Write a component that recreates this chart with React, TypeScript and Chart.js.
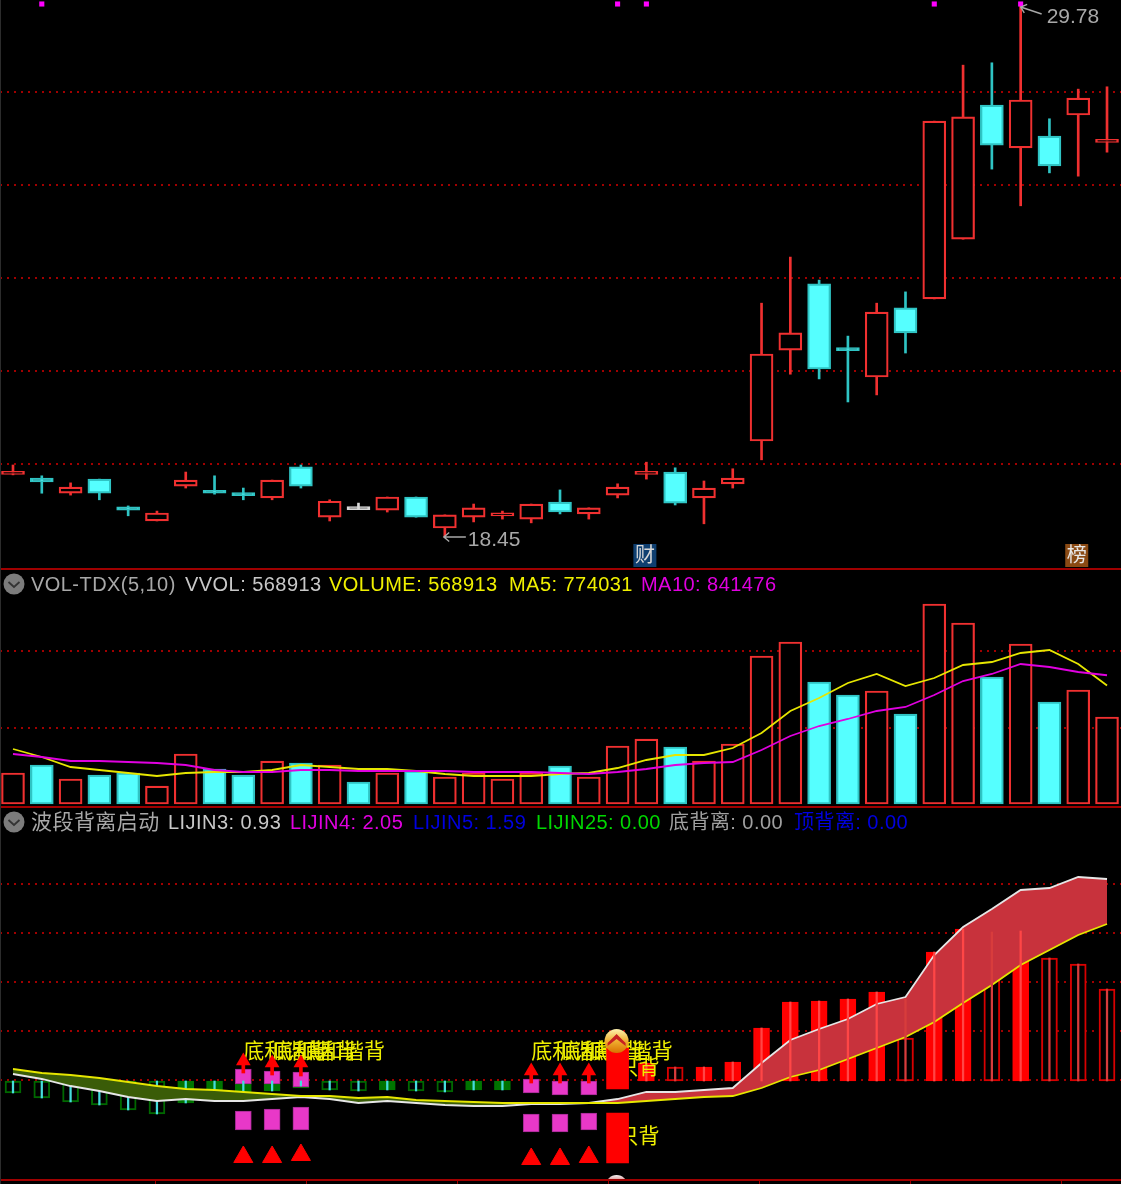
import React, { useEffect, useRef } from "react";
import { Chart, registerables } from "chart.js";

Chart.register(...registerables);

const opens = [19.78,19.70,19.38,19.68,19.09,18.79,19.53,19.41,19.35,19.28,19.94,18.87,19.03,19.02,19.30,18.64,18.87,18.90,18.83,19.19,18.94,19.34,19.78,19.83,19.28,19.58,20.49,22.42,23.83,22.43,21.85,23.32,23.51,24.78,27.63,26.72,26.97,27.42,26.84];
const closes = [19.82,19.62,19.51,19.38,19.02,18.96,19.66,19.38,19.33,19.66,19.53,19.21,19.05,19.30,18.87,18.92,19.07,18.92,19.15,18.98,19.07,19.51,19.83,19.17,19.49,19.70,22.34,22.79,22.02,22.41,23.23,22.79,27.29,27.38,26.78,27.74,26.34,27.78,26.88];
const highs = [19.98,19.75,19.60,19.68,19.11,19.00,19.83,19.75,19.49,19.66,19.98,19.24,19.17,19.30,19.30,18.92,19.15,19.00,19.15,19.45,19.07,19.58,20.04,19.92,19.64,19.90,23.42,24.40,23.91,22.72,23.42,23.66,27.29,28.48,28.53,29.78,27.34,27.97,28.02];
const lows = [19.77,19.38,19.34,19.24,18.90,18.79,19.49,19.36,19.24,19.24,19.49,18.79,19.03,18.98,18.87,18.45,18.77,18.83,18.75,18.94,18.83,19.28,19.68,19.13,18.73,19.49,20.09,21.91,21.81,21.32,21.47,22.36,23.51,24.78,26.27,25.49,26.19,26.12,26.63];
const flatDays = [12];
const priceGrid = [20.0, 21.98, 23.955, 25.93, 27.91];
const signalDays = [1, 21, 22, 32, 35];

const volumes = [202600,254900,163400,189500,202600,117600,326800,228800,189500,281000,268000,254900,143800,202600,215700,176500,202600,163400,202600,248400,176500,379100,424800,372600,281000,392200,967300,1058800,797400,712400,738600,588200,1307200,1183000,830100,1045800,666700,745100,568913];
const ma5 = [359500,307200,241800,222200,202600,183000,202600,209200,209200,222200,254900,241800,228800,228800,215700,196100,183000,183000,183000,196100,202600,235300,287600,320300,320300,366000,464100,607800,692800,790900,849700,771200,823500,908500,928100,986900,1006500,915000,774031];
const ma10 = [326800,307200,281000,281000,274500,268000,254900,222200,209200,209200,222200,222200,215700,215700,215700,215700,209200,209200,209200,202600,196100,209200,228800,254900,268000,274500,352900,444400,509800,555600,607800,634000,712400,803900,849700,915000,895400,862800,841476];
const volumeGrid = [500000, 1000000];

const bandUpper = [6,1,-6,-11,-17,-21,-19,-21,-21,-19,-17,-19,-23,-21,-23,-25,-26,-26,-24,-24,-23,-19,-12,-12,-10,-8,17,40,51,61,76,83,125,153,171,190,192,203,201];
const bandLower = [11,7,5,2,-2,-6,-9,-10,-12,-14,-16,-16,-18,-17,-20,-21,-22,-23,-23,-23,-23,-23,-21,-19,-17,-16,-8,3,10,21,32,43,58,77,95,115,130,145,156];
const indicatorGrid = [0, 49, 98, 147, 196];

const greenDays = [0,1,2,3,4,5,6,7,8,9,10,11,12,13,14,15,16,17];
const greenLows = [-13,-18,-22,-25,-30,-34,-23,-20,-12,-11,-8,-10,-11,-10,-11,-12,-10,-10];
const greenWickLows = [-13,-18,-22,-25,-30,-34,-23,-20,-17,-11,-6,-10,-11,-10,-11,-12,-10,-10];
const greenSolid = [6,7,8,9,10,13,16,17];

const redDays = [22,23,24,25,26,27,28,29,30,31,32,33,34,35,36,37,38];
const redTops = [17,13,13,18,52,78,79,81,88,42,128,151,112,120,122,116,91];
const redWickTops = [17,13,13,18,52,78,79,81,88,81,128,151,148,149,122,116,91];
const redHollow = [23,31,34,36,37,38];

const spikeDay = 21;
const spikeSegments: [number, number][] = [[-9, 32], [-83, -33]];

const pinkDays = [8,9,10,18,19,20];
const pinkUpperLow = [-4,-4,-7,-13,-15,-15];
const pinkUpperHigh = [11,9,8,1,0,0];
const pinkLowerLow = [-50,-50,-50,-52,-52,-50];
const pinkLowerHigh = [-31,-29,-27,-34,-34,-33];
const arrowStemLow = [7,5,4,-3,-3,-3];
const arrowHeadAt = [19,17,17,9,9,9];
const triangleAt = [-77,-77,-75,-79,-79,-77];

const divergenceDays = [8,9,10,18,19,20];
const divergenceLabel = "底和谐背";
const divergenceLevel = 28;
const spikeLabel = "只背";
const spikeLabelLevels = [12, -57];

const priceHigh = { day: 35, value: 29.78, label: "29.78" };
const priceLow = { day: 15, value: 18.45, label: "18.45" };
const badges = [
  { day: 22, label: "财", color: "#0f3f70", text: "#d8d8d8" },
  { day: 37, label: "榜", color: "#8a4a14", text: "#e8e8e8" },
];

const volumeHeader = [
  { text: "VOL-TDX(5,10)", x: 31, color: "#a8a8a8" },
  { text: "VVOL: 568913", x: 185, color: "#c8c8c8" },
  { text: "VOLUME: 568913", x: 329, color: "#f0f000" },
  { text: "MA5: 774031", x: 509, color: "#f0f000" },
  { text: "MA10: 841476", x: 641, color: "#e000e0" },
];
const indicatorHeader = [
  { text: "波段背离启动", x: 31, color: "#a8a8a8", size: 21 },
  { text: "LIJIN3: 0.93", x: 168, color: "#c8c8c8" },
  { text: "LIJIN4: 2.05", x: 290, color: "#e000e0" },
  { text: "LIJIN5: 1.59", x: 413, color: "#0000e0" },
  { text: "LIJIN25: 0.00", x: 536, color: "#00d800" },
  { text: "底背离: 0.00", x: 669, color: "#a0a0a0" },
  { text: "顶背离: 0.00", x: 794, color: "#0000e0" },
];
const timeTicks = [155, 306, 457, 608, 759, 910, 1061];

const STEP = 28.79;
const FONT = '"Liberation Sans","Noto Sans CJK SC",sans-serif';
const RED = "#f03030";
const CYAN = "#55ffff";
const CYAN_EDGE = "#2fc4c4";
const days = opens.map((_, i) => i);

const xAxis = { type: "linear", display: false, min: -13 / STEP, max: (1121 - 13) / STEP, offset: false, grid: { display: false } };
const yAxis = (min: number, max: number, levels: number[]) => ({
  type: "linear",
  min,
  max,
  position: "left",
  afterBuildTicks: (s: any) => { s.ticks = levels.map((value) => ({ value })); },
  afterFit: (s: any) => { s.width = 0; },
  ticks: { display: false },
  border: { display: false, dash: [2, 5] },
  grid: { color: "#a00000", lineWidth: 2, drawTicks: false },
});
const baseOptions = (y: any) => ({
  responsive: false,
  animation: false,
  events: [],
  layout: { padding: 0, autoPadding: false },
  plugins: { legend: { display: false }, tooltip: { enabled: false } },
  scales: { x: xAxis, y },
});
const floating = (label: string, data: any[], width: number, extra: any) => ({
  type: "bar",
  label,
  data,
  grouped: false,
  barPercentage: 1,
  categoryPercentage: 1,
  maxBarThickness: width,
  minBarLength: 3,
  borderSkipped: false,
  ...extra,
});
const lineSet = (label: string, values: number[], color: string, order: number, extra: any = {}) => ({
  type: "line",
  label,
  data: values.map((y, x) => ({ x, y })),
  borderColor: color,
  borderWidth: 1.8,
  pointRadius: 0,
  tension: 0,
  order,
  ...extra,
});

function arrow(ctx: CanvasRenderingContext2D, x0: number, y0: number, x1: number, y1: number, color: string) {
  const a = Math.atan2(y1 - y0, x1 - x0);
  ctx.strokeStyle = color;
  ctx.lineWidth = 1.4;
  ctx.beginPath();
  ctx.moveTo(x1, y1);
  ctx.lineTo(x0, y0);
  ctx.moveTo(x0 + 7 * Math.cos(a - 0.7), y0 + 7 * Math.sin(a - 0.7));
  ctx.lineTo(x0, y0);
  ctx.lineTo(x0 + 7 * Math.cos(a + 0.7), y0 + 7 * Math.sin(a + 0.7));
  ctx.stroke();
}

const priceNotes = {
  id: "priceNotes",
  afterDatasetsDraw(chart: any) {
    const { ctx, scales } = chart;
    ctx.save();
    ctx.font = `21px ${FONT}`;
    ctx.textAlign = "left";
    ctx.textBaseline = "middle";
    const lx = scales.x.getPixelForValue(priceLow.day);
    const ly = scales.y.getPixelForValue(priceLow.value);
    arrow(ctx, lx - 1, ly, lx + 21, ly, "#a8a8a8");
    ctx.fillStyle = "#a8a8a8";
    ctx.fillText(priceLow.label, lx + 23, ly + 3);
    const hx = scales.x.getPixelForValue(priceHigh.day);
    const hy = scales.y.getPixelForValue(priceHigh.value);
    arrow(ctx, hx, hy + 3, hx + 21, hy + 10, "#a8a8a8");
    ctx.fillText(priceHigh.label, hx + 26, hy + 13);
    ctx.textAlign = "center";
    ctx.font = `20px ${FONT}`;
    for (const b of badges) {
      const cx = scales.x.getPixelForValue(b.day) - 1.5;
      ctx.fillStyle = b.color;
      ctx.fillRect(cx - 11.5, chart.height - 25, 23, 23);
      ctx.fillStyle = b.text;
      ctx.fillText(b.label, cx, chart.height - 13);
    }
    ctx.restore();
  },
};

const indicatorNotes = {
  id: "indicatorNotes",
  beforeDatasetDraw(chart: any, args: any) {
    if (chart.data.datasets[args.index].label !== "stems") return;
    const { ctx, scales } = chart;
    ctx.save();
    ctx.fillStyle = "#eeee00";
    ctx.font = `21px ${FONT}`;
    ctx.textAlign = "left";
    ctx.textBaseline = "middle";
    for (const d of divergenceDays) {
      ctx.fillText(divergenceLabel, scales.x.getPixelForValue(d), scales.y.getPixelForValue(divergenceLevel));
    }
    for (const level of spikeLabelLevels) {
      ctx.fillText(spikeLabel, scales.x.getPixelForValue(spikeDay), scales.y.getPixelForValue(level));
    }
    ctx.restore();
  },
  afterDatasetsDraw(chart: any) {
    const { ctx, scales } = chart;
    const cx = scales.x.getPixelForValue(spikeDay) - 1;
    const cy = scales.y.getPixelForValue(39);
    ctx.save();
    const g = ctx.createLinearGradient(0, cy - 12, 0, cy + 12);
    g.addColorStop(0, "#fff2b0");
    g.addColorStop(0.5, "#f0b030");
    g.addColorStop(1, "#d87000");
    ctx.fillStyle = g;
    ctx.beginPath();
    ctx.arc(cx, cy, 12, 0, Math.PI * 2);
    ctx.fill();
    ctx.fillStyle = "#c82020";
    ctx.beginPath();
    ctx.moveTo(cx - 9, cy + 2);
    ctx.lineTo(cx, cy - 7);
    ctx.lineTo(cx + 9, cy + 2);
    ctx.lineTo(cx + 9, cy + 5);
    ctx.lineTo(cx, cy - 2);
    ctx.lineTo(cx - 9, cy + 5);
    ctx.closePath();
    ctx.fill();
    const by = chart.height + 6;
    const b = ctx.createLinearGradient(0, by - 11, 0, by);
    b.addColorStop(0, "#f4f4f4");
    b.addColorStop(1, "#c03030");
    ctx.fillStyle = b;
    ctx.beginPath();
    ctx.arc(cx, by, 11, 0, Math.PI * 2);
    ctx.fill();
    ctx.restore();
  },
};

function priceConfig(): any {
  const colorOf = (i: number) => (flatDays.includes(i) ? "#d8d8d8" : closes[i] >= opens[i] ? RED : CYAN_EDGE);
  return {
    type: "bar",
    data: {
      datasets: [
        floating("wick", days.map((x) => ({ x, y: [lows[x], highs[x]] })), 2, {
          backgroundColor: days.map(colorOf),
          borderWidth: 0,
          order: 3,
        }),
        floating("body", days.map((x) => ({ x, y: [opens[x], closes[x]] })), 23, {
          backgroundColor: days.map((i) => (colorOf(i) === CYAN_EDGE ? CYAN : flatDays.includes(i) ? "#d8d8d8" : "#000")),
          borderColor: days.map(colorOf),
          borderWidth: 2.2,
          order: 2,
        }),
        {
          type: "line",
          label: "signal",
          showLine: false,
          data: signalDays.map((x) => ({ x, y: priceHigh.value })),
          pointStyle: "rect",
          pointRadius: 3.6,
          pointBackgroundColor: "#ff00ff",
          pointBorderWidth: 0,
          clip: false,
          order: 1,
        },
      ],
    },
    options: baseOptions(yAxis(17.769, 29.865, priceGrid)),
    plugins: [priceNotes],
  };
}

function volumeConfig(): any {
  const isUp = (i: number) => closes[i] >= opens[i] && !flatDays.includes(i);
  return {
    type: "bar",
    data: {
      datasets: [
        floating("volume", days.map((x) => ({ x, y: [0, volumes[x]] })), 23, {
          backgroundColor: days.map((i) => (isUp(i) ? "#000" : CYAN)),
          borderColor: days.map((i) => (isUp(i) ? RED : CYAN_EDGE)),
          borderWidth: 2.2,
          order: 3,
        }),
        lineSet("MA5", ma5, "#e6e600", 2),
        lineSet("MA10", ma10, "#e000e0", 1),
      ],
    },
    options: baseOptions(yAxis(-13072, 1529424, volumeGrid)),
  };
}

function indicatorConfig(): any {
  const pick = (idx: number[], vals: number[]) => idx.map((x, k) => ({ x, y: vals[k] }));
  const range = (idx: number[], a: number[], b: number[]) => idx.map((x, k) => ({ x, y: [a[k], b[k]] }));
  return {
    type: "bar",
    data: {
      datasets: [
        floating("green", range(greenDays, greenLows, greenDays.map(() => 0)), 16, {
          backgroundColor: greenDays.map((d) => (greenSolid.includes(d) ? "#007400" : "#000")),
          borderColor: greenDays.map((d) => (greenSolid.includes(d) ? "#007400" : "#006800")),
          borderWidth: 2,
          order: 20,
        }),
        floating("red", range(redDays, redDays.map(() => -1), redTops), 16, {
          backgroundColor: redDays.map((d) => (redHollow.includes(d) ? "#000" : "#ff0000")),
          borderColor: redDays.map((d) => (redHollow.includes(d) ? "#d80000" : "#ff0000")),
          borderWidth: 2,
          order: 19,
        }),
        floating("pinkUpper", range(pinkDays, pinkUpperLow, pinkUpperHigh), 16, {
          backgroundColor: "#e838c8",
          borderColor: "#a02a90",
          borderWidth: 1,
          order: 17,
        }),
        floating("pinkLower", range(pinkDays, pinkLowerLow, pinkLowerHigh), 16, {
          backgroundColor: "#e838c8",
          borderColor: "#a02a90",
          borderWidth: 1,
          order: 16,
        }),
        floating("greenWick", range(greenDays, greenWickLows, greenDays.map(() => 0)), 1.6, {
          backgroundColor: "#45dcdc",
          borderWidth: 0,
          order: 15,
        }),
        lineSet("upper", bandUpper, "#e6e6e6", 10, {
          fill: { target: "+1", above: "rgb(200,50,60)", below: "#3a5c08" },
        }),
        lineSet("lower", bandLower, "#e6e600", 9),
        floating("redWick", range(redDays, redDays.map(() => -1), redWickTops), 1.6, {
          backgroundColor: redDays.map((d) => (redHollow.includes(d) ? "#d83c3c" : "#ff4646")),
          borderWidth: 0,
          order: 8.5,
        }),
        floating("stems", range(pinkDays, arrowStemLow, arrowHeadAt), 3, {
          backgroundColor: "#ff0000",
          borderWidth: 0,
          order: 8,
        }),
        {
          type: "line",
          label: "heads",
          showLine: false,
          data: pick(pinkDays, arrowHeadAt),
          pointStyle: "triangle",
          pointRadius: 8.5,
          pointBackgroundColor: "#ff0000",
          pointBorderWidth: 0,
          order: 7,
        },
        {
          type: "line",
          label: "triangles",
          showLine: false,
          data: pick(pinkDays, triangleAt),
          pointStyle: "triangle",
          pointRadius: 11,
          pointBackgroundColor: "#ff0000",
          pointBorderColor: "#ff0000",
          pointBorderWidth: 1,
          order: 6,
        },
        floating("spike", spikeSegments.map((y) => ({ x: spikeDay, y })), 22, {
          backgroundColor: "#ff0000",
          borderWidth: 0,
          order: 3,
        }),
      ],
    },
    options: baseOptions(yAxis(-100, 272, indicatorGrid)),
    plugins: [indicatorNotes],
  };
}

function Panel({ top, height, config }: { top: number; height: number; config: () => any }) {
  const ref = useRef<HTMLCanvasElement>(null);
  useEffect(() => {
    const chart = new Chart(ref.current as HTMLCanvasElement, config());
    return () => chart.destroy();
  }, [config]);
  return <canvas ref={ref} width={1121} height={height} style={{ position: "absolute", left: 0, top, display: "block" }} />;
}

function Header({ y, items }: { y: number; items: { text: string; x: number; color: string; size?: number }[] }) {
  return (
    <>
      <svg width={22} height={22} style={{ position: "absolute", left: 3, top: y - 11 }}>
        <circle cx={11} cy={11} r={10.5} fill="#7c7c7c" />
        <path d="M5.5 9 L11 14 L16.5 9" stroke="#333" strokeWidth={1.8} fill="none" />
      </svg>
      {items.map((t) => (
        <span
          key={t.text}
          style={{
            position: "absolute",
            left: t.x,
            top: y - 13,
            font: `${t.size ?? 20}px/26px ${FONT}`,
            letterSpacing: "0.45px",
            color: t.color,
            whiteSpace: "nowrap",
          }}
        >
          {t.text}
        </span>
      ))}
    </>
  );
}

export default function App() {
  useEffect(() => {
    document.body.style.margin = "0";
    document.body.style.background = "#000";
  }, []);
  const rule = (top: number) => (
    <div style={{ position: "absolute", left: 0, top, width: 1121, height: 2, background: "#a00000" }} />
  );
  return (
    <div style={{ position: "absolute", left: 0, top: 0, width: 1121, height: 1184, background: "#000", overflow: "hidden" }}>
      <Panel top={0} height={569} config={priceConfig} />
      <Panel top={570} height={236} config={volumeConfig} />
      <Panel top={808} height={372} config={indicatorConfig} />
      {rule(568)}
      {rule(806)}
      {rule(1179)}
      {timeTicks.map((x) => (
        <div key={x} style={{ position: "absolute", left: x, top: 1181, width: 1, height: 3, background: "#a00000" }} />
      ))}
      <div style={{ position: "absolute", left: 0, top: 0, width: 1, height: 1184, background: "#2c2c2c" }} />
      <Header y={584} items={volumeHeader} />
      <Header y={822} items={indicatorHeader} />
    </div>
  );
}
